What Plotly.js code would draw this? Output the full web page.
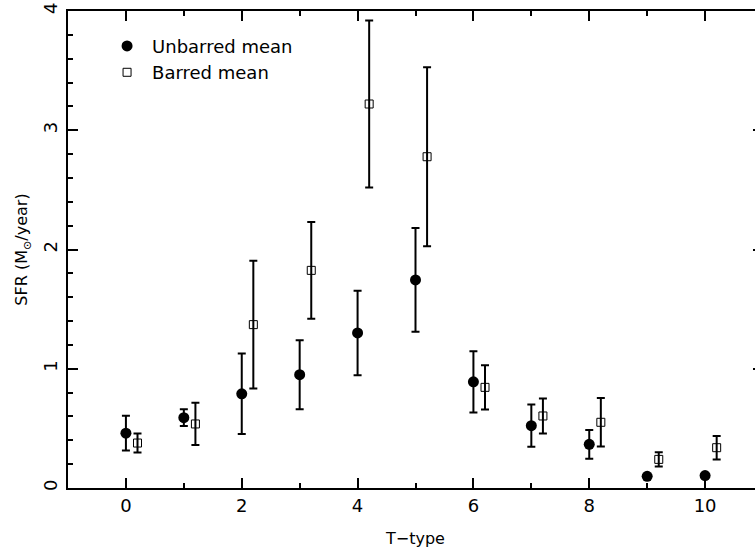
<!DOCTYPE html>
<html>
<head>
<meta charset="utf-8">
<script src="https://cdn.plot.ly/plotly-3.0.1.min.js"></script>
<style>
html,body{margin:0;padding:0;overflow:hidden;background:#fff;}
#chart{width:775px;height:556px;}
</style>
</head>
<body>
<div id="chart"></div>
<script>
// T-type values
const tUnbarred = [0, 1, 2, 3, 4, 5, 6, 7, 8, 9, 10];
const tBarred = [0.2, 1.2, 2.2, 3.2, 4.2, 5.2, 6.2, 7.2, 8.2, 9.2, 10.2];
// Mean SFR (M_sun/year)
const sfrUnbarred = [0.46, 0.59, 0.79, 0.95, 1.30, 1.745, 0.89, 0.523, 0.366, 0.098, 0.104];
const errUnbarred = [0.145, 0.07, 0.338, 0.29, 0.355, 0.435, 0.257, 0.178, 0.12, 0.0, 0.0];
const sfrBarred = [0.377, 0.537, 1.37, 1.825, 3.22, 2.778, 0.844, 0.604, 0.551, 0.24, 0.338];
const errBarred = [0.08, 0.177, 0.535, 0.405, 0.70, 0.75, 0.186, 0.146, 0.203, 0.06, 0.098];
const xTicks = [0, 2, 4, 6, 8, 10];
const yTicks = [0, 1, 2, 3, 4];

const font = "'DejaVu Sans', 'Liberation Sans', sans-serif";
const black = '#000000';

const traces = [
  {
    x: tUnbarred, y: sfrUnbarred, type: 'scatter', mode: 'markers',
    name: 'Unbarred mean',
    marker: {symbol: 'circle', size: 11, color: black},
    error_y: {type: 'data', array: errUnbarred, visible: true, color: black, thickness: 2, width: 4}
  },
  {
    x: tBarred, y: sfrBarred, type: 'scatter', mode: 'markers',
    name: 'Barred mean',
    marker: {symbol: 'square-open', size: 8, color: black, line: {width: 1, color: black}},
    error_y: {type: 'data', array: errBarred, visible: true, color: black, thickness: 2, width: 4}
  }
];

const layout = {
  width: 775, height: 556,
  margin: {l: 68, r: 12, t: 11, b: 68},
  paper_bgcolor: '#ffffff', plot_bgcolor: '#ffffff',
  font: {family: font, color: black, size: 16},
  showlegend: true,
  legend: {x: 0.049, y: 0.965, xanchor: 'left', yanchor: 'top', bgcolor: 'rgba(0,0,0,0)',
           font: {family: font, size: 18, color: black}, tracegroupgap: 0, itemwidth: 40},
  xaxis: {
    range: [-1, 11], showgrid: false, zeroline: false,
    showline: true, linecolor: black, linewidth: 2, mirror: 'ticks',
    ticks: 'inside', ticklen: 10, tickwidth: 2, tickcolor: black,
    tickmode: 'array', tickvals: xTicks, ticktext: xTicks.map(String),
    tickfont: {family: font, size: 18, color: black},
    minor: {dtick: 1, tick0: 0, ticks: 'inside', ticklen: 5, tickwidth: 2, tickcolor: black, showgrid: false},
    title: {text: 'T\u2212type', font: {family: font, size: 16, color: black}, standoff: 18}
  },
  yaxis: {
    range: [0, 4], showgrid: false, zeroline: false,
    showline: true, linecolor: black, linewidth: 2, mirror: 'ticks',
    ticks: 'inside', ticklen: 10, tickwidth: 2, tickcolor: black,
    tickmode: 'array', tickvals: yTicks, ticktext: yTicks.map(String),
    tickangle: -90, ticklabelstandoff: 2, tickfont: {family: font, size: 18, color: black},
    minor: {dtick: 0.2, tick0: 0, ticks: 'inside', ticklen: 5, tickwidth: 2, tickcolor: black, showgrid: false},
    title: {text: 'SFR (M<sub>\u2299</sub>/year)', font: {family: font, size: 16, color: black}, standoff: 8}
  }
};

Plotly.newPlot('chart', traces, layout, {displayModeBar: false, staticPlot: true});
</script>
</body>
</html>
